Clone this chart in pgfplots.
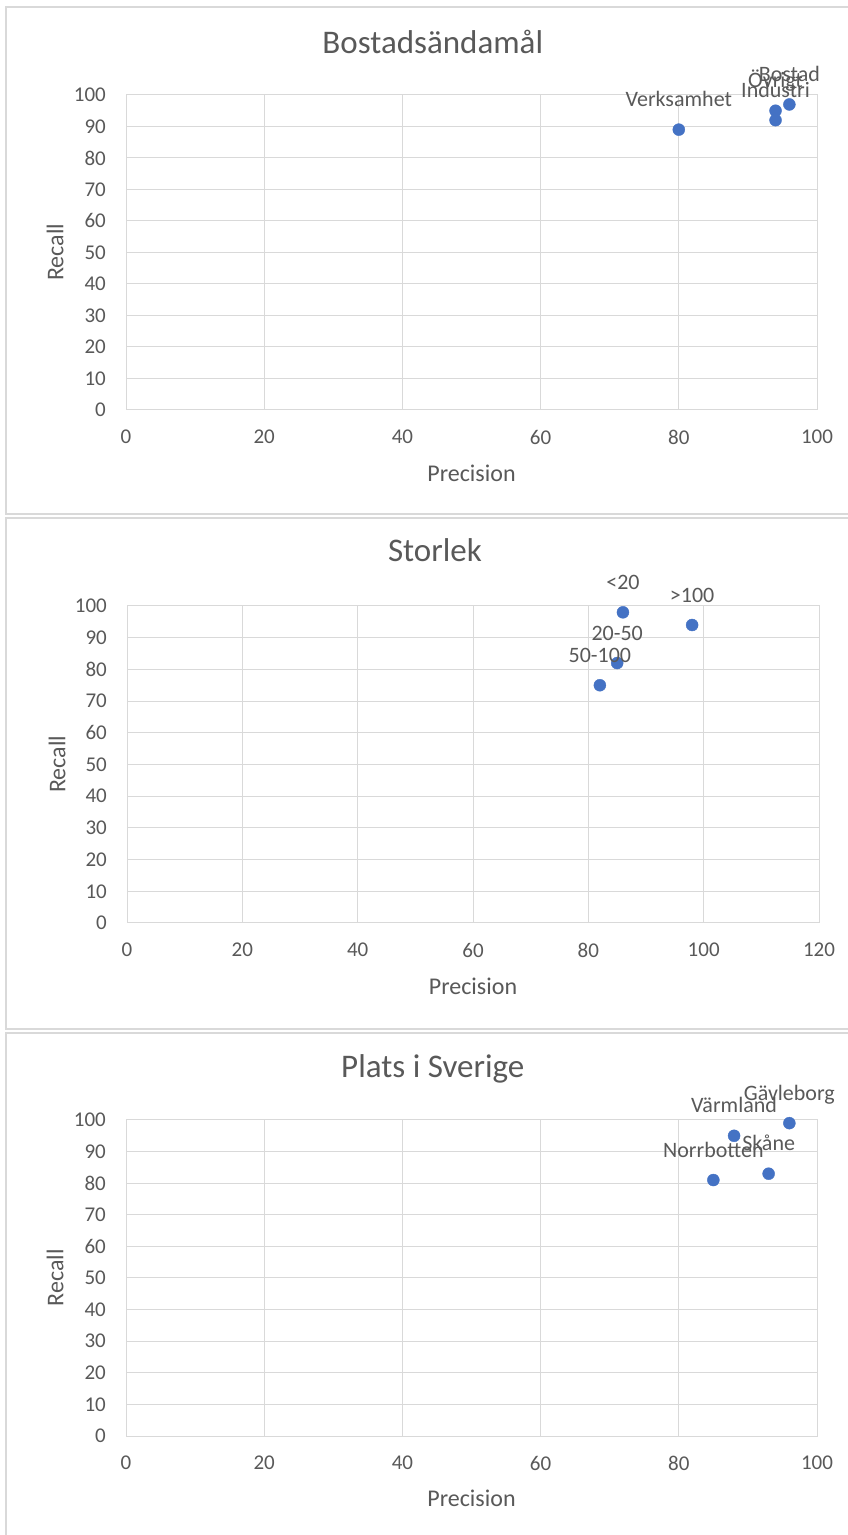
\documentclass[border=0pt]{standalone}
\usepackage{fontspec}
\setmainfont{Carlito}
\usepackage{pgfplots}
\pgfplotsset{compat=1.18}
\definecolor{txt}{HTML}{595959}
\definecolor{gridc}{HTML}{D9D9D9}
\definecolor{mk}{HTML}{4472C4}
\definecolor{framec}{HTML}{D9D9D9}
\pgfplotsset{
  panel/.style={
    scale only axis,
    xmin=0, xmax=100, ymin=0, ymax=100,
    ytick={0,10,...,100}, xtick={0,20,...,100},
    grid=major, major grid style={draw=gridc, line width=1bp},
    axis line style={draw=gridc, line width=1bp},
    tick style={draw=none},
    /pgf/number format/assume math mode=true,
    ticklabel style={font=\fontsize{21bp}{25bp}\selectfont, text=txt, inner sep=0pt},
    xticklabel shift=20bp,
    yticklabel shift=20bp,
    xlabel=Precision, ylabel=Recall,
    label style={font=\fontsize{24bp}{28bp}\selectfont, text=txt},
    xlabel style={at={(axis description cs:0.5,-0.2)}, anchor=center},
    ylabel style={at={(axis description cs:-0.1027,0.5)}, anchor=center},
    title style={font=\fontsize{33bp}{40bp}\selectfont, text=txt, anchor=base, inner sep=0pt},
    clip=false,
    nodes near coords, point meta=explicit symbolic,
    every node near coord/.append style={font=\fontsize{22bp}{26bp}\selectfont, text=txt, anchor=base, yshift=23bp, inner sep=0pt},
  },
  pts/.style={only marks, mark=*, mark size=6bp, mark options={fill=mk, draw=mk}},
}
\begin{document}
\begin{tikzpicture}
\useasboundingbox (0,0) rectangle (848bp,1535bp);
\fill[white] (0,0) rectangle (848bp,1535bp);
\draw[framec, line width=1.5bp] (6bp,1021bp) rectangle (856bp,1528bp);
\draw[framec, line width=1.5bp] (6bp,506bp) rectangle (856bp,1017bp);
\draw[framec, line width=1.5bp] (6bp,-10bp) rectangle (856bp,502bp);

\begin{axis}[panel, at={(126bp,1125bp)}, anchor=south west, width=691bp, height=315bp,
  title={Bostadsändamål}, title style={at={(axis description cs:0.444,1.114)}}]
\addplot[pts] table[meta=label] {
x y label
80 89 Verksamhet
94 92 Industri
94 95 Övrigt
96 97 Bostad
};
\end{axis}

\begin{axis}[panel, at={(127bp,612bp)}, anchor=south west, width=692bp, height=317bp,
  xmax=120, xtick={0,20,...,120},
  title={Storlek}, title style={at={(axis description cs:0.445,1.123)}},
  xlabel style={at={(axis description cs:0.5,-0.199)}},
  ylabel style={at={(axis description cs:-0.101,0.5)}}]
\addplot[pts] table[meta=label] {
x y label
86 98 <20
98 94 >100
85 82 20-50
82 75 50-100
};
\end{axis}

\begin{axis}[panel, at={(126bp,99bp)}, anchor=south west, width=691bp, height=316bp,
  title={Plats i Sverige}, title style={at={(axis description cs:0.444,1.117)}},
  xlabel style={at={(axis description cs:0.5,-0.196)}}]
\addplot[pts] table[meta=label] {
x y label
96 99 Gävleborg
88 95 Värmland
93 83 Skåne
85 81 Norrbotten
};
\end{axis}
\end{tikzpicture}
\end{document}
